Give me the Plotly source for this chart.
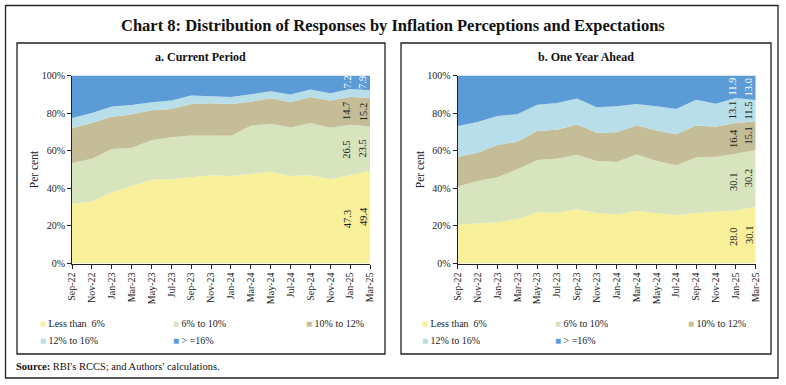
import plotly.graph_objects as go

# ---------------- data ----------------
months = ["Sep-22", "Nov-22", "Jan-23", "Mar-23", "May-23", "Jul-23", "Sep-23", "Nov-23",
          "Jan-24", "Mar-24", "May-24", "Jul-24", "Sep-24", "Nov-24", "Jan-25", "Mar-25"]
series_names = ["Less than\u00a0 6%", "6% to 10%", "10% to 12%", "12% to 16%", "> =16%"]

# a. Current Period
cur_lt6 = [31.7, 33.0, 37.9, 41.0, 44.5, 44.8, 46.0, 47.0, 46.6, 47.5, 48.8, 46.6, 47.0, 44.8, 47.3, 49.4]
cur_6to10 = [21.7, 22.7, 23.0, 20.4, 21.0, 22.3, 22.1, 21.1, 21.4, 25.8, 25.6, 25.8, 27.7, 27.4, 26.5, 23.5]
cur_10to12 = [18.6, 19.0, 17.2, 17.8, 16.0, 15.1, 16.8, 17.1, 16.9, 12.8, 13.5, 13.4, 13.9, 14.5, 14.7, 15.2]
cur_12to16 = [5.4, 5.3, 5.4, 5.1, 4.3, 4.5, 4.4, 3.9, 3.7, 3.9, 3.7, 4.1, 3.9, 3.9, 4.3, 4.0]
cur_ge16 = [22.6, 20.0, 16.5, 15.7, 14.2, 13.3, 10.7, 10.9, 11.4, 10.0, 8.4, 10.1, 7.5, 9.4, 7.2, 7.9]

# b. One Year Ahead
ahd_lt6 = [20.6, 21.2, 22.0, 23.6, 27.3, 27.0, 28.9, 26.8, 26.1, 27.9, 26.6, 25.7, 26.8, 27.3, 28.0, 30.1]
ahd_6to10 = [20.3, 22.7, 23.9, 26.5, 27.7, 28.7, 28.9, 27.7, 27.9, 30.1, 27.9, 26.5, 29.6, 29.5, 30.1, 30.2]
ahd_10to12 = [15.9, 15.0, 17.1, 14.6, 15.5, 15.4, 16.1, 15.0, 15.8, 15.5, 16.2, 16.6, 17.0, 15.9, 16.4, 15.1]
ahd_12to16 = [16.4, 16.4, 15.5, 14.7, 14.0, 14.3, 13.9, 13.6, 13.8, 11.3, 12.9, 13.4, 13.7, 12.3, 13.1, 11.5]
ahd_ge16 = [26.8, 24.7, 21.5, 20.6, 15.5, 14.6, 12.2, 16.9, 16.4, 15.2, 16.4, 17.8, 12.9, 15.0, 11.9, 13.0]

labelled_points = ["Jan-25", "Mar-25"]
min_labelled_value = 5.0  # thin bands are not labelled

# ---------------- styles ----------------
colors = ["#F8F09B", "#D8E4BD", "#C5BD98", "#B8DEEA", "#5B9BD6"]
label_colors = ["#222222", "#222222", "#222222", "#222222", "#FFFFFF"]
FONT = "Liberation Serif"
W, H = 786, 385


def px_x(p):
    return p / W


def px_y(p):
    return 1 - p / H


panels = [
    dict(name="a. Current Period", data=[cur_lt6, cur_6to10, cur_10to12, cur_12to16, cur_ge16],
         xa="x", ya="y", x0=72, x1=370, box=(17, 43, 385, 354), legs=("legend", "legend2"), legx=0),
    dict(name="b. One Year Ahead", data=[ahd_lt6, ahd_6to10, ahd_10to12, ahd_12to16, ahd_ge16],
         xa="x2", ya="y2", x0=457.7, x1=755.7, box=(401, 43, 771, 354), legs=("legend3", "legend4"), legx=382),
]

fig = go.Figure()
annotations = []
shapes = []

for pi, p in enumerate(panels):
    for si, (vals, nm) in enumerate(zip(p["data"], series_names)):
        fig.add_trace(go.Scatter(
            x=months, y=vals, name=nm, mode="lines", line=dict(width=0),
            fillcolor=colors[si], stackgroup=f"g{pi}", groupnorm="percent",
            xaxis=p["xa"], yaxis=p["ya"], showlegend=False,
            hovertemplate="%{x}: %{y:.1f}%<extra>" + nm + "</extra>"))
    # legend entries (two rows of the legend)
    for si, nm in enumerate(series_names):
        leg = p["legs"][0] if si < 3 else p["legs"][1]
        fig.add_trace(go.Scatter(
            x=[None], y=[None], mode="lines", line=dict(width=0, color="rgba(0,0,0,0)"),
            name=f'<span style="color:{colors[si]}">\u25A0</span> {nm}',
            xaxis=p["xa"], yaxis=p["ya"], legend=leg, showlegend=True, hoverinfo="skip"))
    # data labels for the last two points
    for mi, m in enumerate(labelled_points):
        idx = months.index(m)
        col = [s[idx] for s in p["data"]]
        tot = sum(col)
        cum = 0.0
        for si, v in enumerate(col):
            mid = (cum + v / 2) / tot * 100
            cum += v
            if v < min_labelled_value:
                continue
            annotations.append(dict(
                x=m, y=mid, xref=p["xa"], yref=p["ya"], text=f"{v:.1f}", showarrow=False,
                textangle=-90, xshift=-3 if mi == 0 else -7,
                font=dict(family=FONT, size=10.5, color=label_colors[si])))
    # panel subtitle
    bx0, by0, bx1, by1 = p["box"]
    annotations.append(dict(
        x=px_x((bx0 + bx1) / 2), y=px_y(57), xref="paper", yref="paper", showarrow=False,
        text=f"<b>{p['name']}</b>", font=dict(family=FONT, size=12, color="#111111"),
        xanchor="center", yanchor="middle"))
    shapes.append(dict(type="rect", xref="paper", yref="paper",
                       x0=px_x(bx0), x1=px_x(bx1), y0=px_y(by1), y1=px_y(by0),
                       line=dict(color="#222222", width=1.3)))

# outer frame
shapes.append(dict(type="rect", xref="paper", yref="paper",
                   x0=px_x(5.5), x1=px_x(778), y0=px_y(378), y1=px_y(5.5),
                   line=dict(color="#222222", width=1.3)))

# main title
annotations.append(dict(
    x=px_x(392.5), y=px_y(25), xref="paper", yref="paper", showarrow=False,
    text="<b>Chart 8: Distribution of Responses by Inflation Perceptions and Expectations</b>",
    font=dict(family=FONT, size=16.5, color="#111111"), xanchor="center", yanchor="middle"))

# source
annotations.append(dict(
    x=px_x(14), y=px_y(366), xref="paper", yref="paper", showarrow=False,
    text="<b>Source:</b> RBI's RCCS; and Authors' calculations.",
    font=dict(family=FONT, size=10.5, color="#111111"), xanchor="left", yanchor="middle"))

ydom = [px_y(263.5), px_y(75.5)]
axis_common = dict(showgrid=False, zeroline=False, showline=True, linecolor="#222222", linewidth=1,
                   ticks="outside", ticklen=4, tickcolor="#222222", automargin=False,
                   tickfont=dict(family=FONT, size=10, color="#222222"))

layout = dict(
    width=W, height=H, margin=dict(l=0, r=0, t=0, b=0, autoexpand=False),
    paper_bgcolor="white", plot_bgcolor="white",
    font=dict(family=FONT, size=10, color="#222222"),
    annotations=annotations, shapes=shapes,
)
for pi, p in enumerate(panels):
    sfx = "" if pi == 0 else "2"
    layout["xaxis" + sfx] = dict(axis_common, type="category", categoryorder="array",
                                 categoryarray=months, range=[0, len(months) - 1],
                                 domain=[px_x(p["x0"]), px_x(p["x1"])], tickangle=-90,
                                 anchor="y" + sfx)
    layout["yaxis" + sfx] = dict(axis_common, range=[0, 100], dtick=20, ticksuffix="%",
                                 domain=ydom, anchor="x" + sfx,
                                 title=dict(text="Per cent", standoff=0,
                                            font=dict(family=FONT, size=11.5, color="#222222")))
    for li, leg in enumerate(p["legs"]):
        layout[leg] = dict(orientation="h", x=px_x(p["legx"]), y=px_y(323 if li == 0 else 340),
                           xanchor="left", yanchor="middle", bgcolor="rgba(0,0,0,0)",
                           entrywidth=88, entrywidthmode="pixels", itemwidth=30,
                           font=dict(family=FONT, size=10, color="#222222"),
                           traceorder="normal")

fig.update_layout(**layout)
fig.write_html(
    "out.html",
    config={"displayModeBar": False},
    post_script=(
        "document.documentElement.style.margin='0';document.documentElement.style.overflow='hidden';"
        "document.body.style.margin='0';document.body.style.padding='0';document.body.style.overflow='hidden';"
        "var d=document.getElementById('{plot_id}');d.style.position='fixed';d.style.left='0px';d.style.top='0px';"
    ),
)
